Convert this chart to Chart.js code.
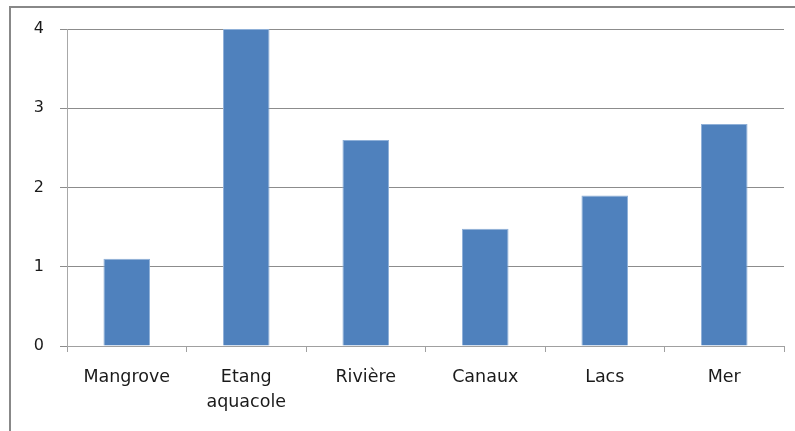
<!DOCTYPE html>
<html>
<head>
<meta charset="utf-8">
<script src="https://cdn.jsdelivr.net/npm/chart.js@4/dist/chart.umd.min.js"></script>
<style>
    html, body { margin: 0; padding: 0; background: #fff; overflow: hidden; }
    #wrap { position: relative; width: 795px; height: 431px; }
    #frame {
        position: absolute;
        left: 9px;
        top: 6px;
        width: 820px;
        height: 460px;
        border-left: 2px solid #888;
        border-top: 2px solid #888;
    }
    #chart { position: absolute; left: 0; top: 0; }
</style>
</head>
<body>
<div id="wrap">
    <div id="frame"></div>
    <canvas id="chart" width="795" height="431"></canvas>
</div>
<script>
// Data
const categories = ['Mangrove', ['Etang', 'aquacole'], 'Rivière', 'Canaux', 'Lacs', 'Mer'];
const values = [1.1, 4.0, 2.6, 1.48, 1.9, 2.8];
const yTicks = [0, 1, 2, 3, 4];

const labelFont = 'DejaVu Sans, sans-serif';

const ctx = document.getElementById('chart').getContext('2d');
new Chart(ctx, {
    type: 'bar',
    data: {
        labels: categories,
        datasets: [{
            data: values,
            backgroundColor: '#4f81bd',
            borderColor: '#8fb0d8',
            borderWidth: 1,
            categoryPercentage: 1,
            barPercentage: 0.39
        }]
    },
    options: {
        responsive: false,
        animation: false,
        layout: { padding: { left: 0, top: 29, right: 11, bottom: 0 } },
        plugins: {
            legend: { display: false },
            tooltip: { enabled: false }
        },
        scales: {
            x: {
                grid: {
                    offset: true,
                    drawOnChartArea: false,
                    drawTicks: true,
                    tickLength: 6,
                    color: '#a0a0a0'
                },
                border: { color: '#a0a0a0', width: 1 },
                ticks: {
                    color: '#1a1a1a',
                    padding: 13,
                    maxRotation: 0,
                    autoSkip: false,
                    font: { family: labelFont, size: 17.5, lineHeight: 1.42 }
                },
                afterFit: (scale) => { scale.height = 85; }
            },
            y: {
                min: 0,
                max: 4,
                grid: {
                    color: '#8c8c8c',
                    tickLength: 7,
                    lineWidth: 1
                },
                border: { color: '#a8a8a8', width: 1 },
                afterBuildTicks: (scale) => {
                    scale.ticks = yTicks.map(v => ({ value: v }));
                },
                ticks: {
                    color: '#1a1a1a',
                    padding: 16,
                    font: { family: labelFont, size: 16 }
                },
                afterFit: (scale) => { scale.width = 67; }
            }
        }
    }
});
</script>
</body>
</html>
